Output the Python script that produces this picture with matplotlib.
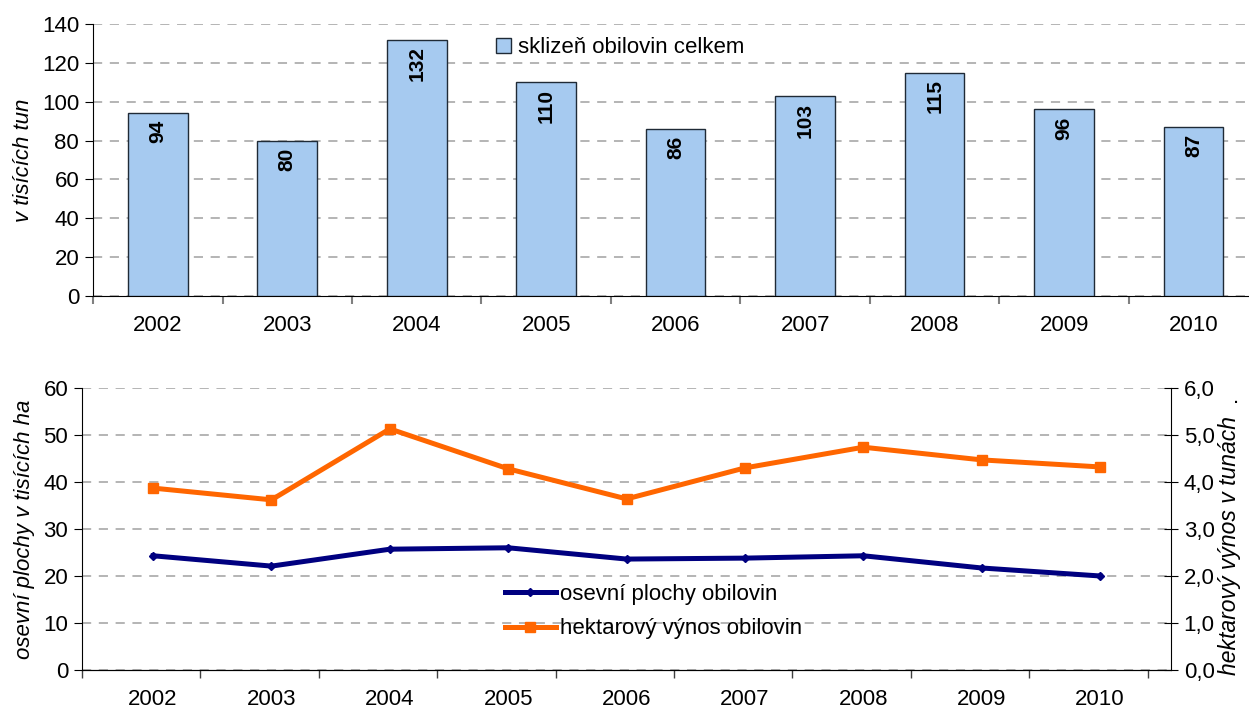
import matplotlib.pyplot as plt
import matplotlib.ticker as mticker
import numpy as np

plt.rcParams['font.family'] = ['Liberation Sans', 'DejaVu Sans']

# data
roky = ['2002', '2003', '2004', '2005', '2006', '2007', '2008', '2009', '2010']
sklizen = [94, 80, 132, 110, 86, 103, 115, 96, 87]
plochy = [24.3, 22.1, 25.7, 26.0, 23.6, 23.8, 24.3, 21.7, 20.0]
vynos = [3.87, 3.62, 5.13, 4.28, 3.64, 4.30, 4.74, 4.47, 4.32]

fs = 16
grid_kw = dict(color='#A0A0A0', linestyle=(0, (6, 5)), linewidth=1.1)

fig = plt.figure(figsize=(12.49, 7.11), dpi=100)

# horni graf - sklizen
ax1 = fig.add_axes([0.0745, 0.5837, 0.933, 0.3826])
x = np.arange(len(roky))
ax1.bar(x, sklizen, width=0.46, color='#A6CAF0', edgecolor='#1F2A36',
        linewidth=1.0, label='sklizeň obilovin celkem', zorder=3)
for xi, v in zip(x, sklizen):
    ax1.text(xi, v - 3.5, str(v), rotation=90, ha='center', va='top',
             fontsize=15, fontweight='bold', zorder=4)
ax1.set_xlim(-0.5, len(roky) - 0.5)
ax1.set_ylim(0, 140)
ax1.set_yticks(range(0, 141, 20))
ax1.yaxis.grid(True, **grid_kw)
ax1.set_axisbelow(True)
ax1.set_xticks(x)
ax1.set_xticklabels(roky)
ax1.set_xticks(np.arange(-0.5, len(roky)), minor=True)
ax1.tick_params(axis='x', which='major', length=0, pad=14, labelsize=fs)
ax1.tick_params(axis='x', which='minor', length=6, color='#808080', width=1.5)
ax1.tick_params(axis='y', length=6, labelsize=fs, pad=4)
for s in ['top', 'right']:
    ax1.spines[s].set_visible(False)
ax1.set_ylabel('v tisících tun', fontsize=fs, style='italic', labelpad=6)
ax1.legend(loc='center left', bbox_to_anchor=(0.338, 0.912), frameon=False,
           fontsize=fs, handlelength=0.7, handleheight=0.7, handletextpad=0.3,
           borderaxespad=0)

# dolni graf - plochy a vynos
ax2 = fig.add_axes([0.0657, 0.0577, 0.872, 0.3966])
ax3 = ax2.twinx()
l1, = ax2.plot(x, plochy, color='#000080', linewidth=3.6, marker='D',
               markersize=4.5, label='osevní plochy obilovin', zorder=3)
l2, = ax3.plot(x, vynos, color='#FF6600', linewidth=3.6, marker='s',
               markersize=6.5, label='hektarový výnos obilovin', zorder=3)
ax2.set_xlim(-0.6, len(roky) - 0.4)
ax2.set_ylim(0, 60)
ax2.set_yticks(range(0, 61, 10))
ax3.set_ylim(0, 6)
ax3.set_yticks(np.arange(0, 6.01, 1))
ax3.yaxis.set_major_formatter(mticker.FuncFormatter(lambda v, p: f'{v:.1f}'.replace('.', ',')))
ax2.yaxis.grid(True, **grid_kw)
ax2.set_axisbelow(True)
ax2.set_xticks(x)
ax2.set_xticklabels(roky)
ax2.set_xticks(np.arange(-0.6, len(roky)), minor=True)
ax2.tick_params(axis='x', which='major', length=0, pad=14, labelsize=fs)
ax2.tick_params(axis='x', which='minor', length=6, color='#404040', width=1.0)
ax2.tick_params(axis='y', length=6, labelsize=fs, pad=4)
ax3.tick_params(axis='y', length=10, direction='inout', labelsize=fs, pad=4)
ax2.spines['top'].set_visible(False)
ax2.spines['right'].set_visible(False)
ax3.spines['top'].set_visible(False)
ax3.spines['left'].set_visible(False)
ax2.set_ylabel('osevní plochy v tisících ha', fontsize=fs, style='italic', labelpad=6)
ax3.set_ylabel('hektarový výnos v tunách', fontsize=16.5, style='italic')
ax3.yaxis.set_label_coords(1.043, 0.44)
ax3.text(1.06, 0.947, '.', transform=ax3.transAxes, fontsize=fs,
         ha='center', va='baseline')
ax2.legend([l1, l2], [l1.get_label(), l2.get_label()], loc='upper left',
           bbox_to_anchor=(0.38, 0.338), frameon=False, fontsize=fs,
           handlelength=2.3, handletextpad=0.2, labelspacing=0.62, borderaxespad=0)

fig.savefig('out.png', dpi=100)
